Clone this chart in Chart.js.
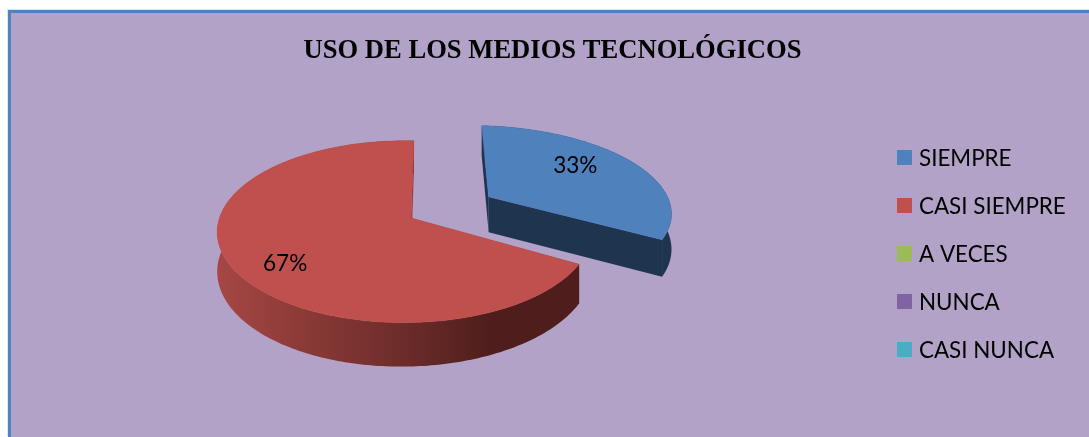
<!DOCTYPE html>
<html><head><meta charset="utf-8">
<script src="https://cdn.jsdelivr.net/npm/chart.js@4"></script>
<style>
html,body{margin:0;padding:0;width:1089px;height:437px;overflow:hidden;background:#fff}
#frame{position:absolute;left:8px;top:10px;width:1089px;height:427px;background:#B3A2C7;box-shadow:inset 3px 3px 0 #4F81BD,-1px -1px 0 #dbe4ef}
canvas{position:absolute;left:0;top:0}
</style></head><body>
<div id="frame"><canvas id="c" width="1089" height="427"></canvas></div>
<script>
const chartTitle = "USO DE LOS MEDIOS TECNOLÓGICOS";
const categories = ["SIEMPRE","CASI SIEMPRE","A VECES","NUNCA","CASI NUNCA"];
const values = [33,67,0,0,0];
const colors = ["#4F81BD","#C0504D","#9BBB59","#8064A2","#4BACC6"];
const BODY_FONT = "Lato";

// Projection of the flat pie into its tilted view
const PIE = {x:403, y:208, radius:185, tilt:0.48, persp:0.15, skew:0.034, depth:37.4, explodedWidth:1.07};
const LABEL_SPOT = {0:{turn:-8, frac:0.7}, 1:{turn:-7, frac:0.76}};
const LABEL_NUDGE = {0:{x:2,y:1}, 1:{x:-2,y:2}};
const LEGEND = {x:889, firstY:147.5, step:48, box:15, gap:7, size:22.4, textDrop:1};

function project(dx,dy){
  const s = 1/(1 + PIE.persp*(-dy/PIE.radius) + PIE.skew*(dx/PIE.radius));
  return {x:PIE.x+dx*s, y:PIE.y+PIE.tilt*dy*s, s};
}
function trace(ctx,pts){ctx.beginPath();pts.forEach((p,i)=>i?ctx.lineTo(p.x,p.y):ctx.moveTo(p.x,p.y));ctx.closePath();}
function lower(p){return {x:p.x,y:p.y+PIE.depth*p.s};}

const pie3d = {
  id:'pie3d',
  beforeDatasetsDraw(chart){
    const ctx = chart.ctx, arcs = chart.getDatasetMeta(0).data;
    const order = arcs.map((a,i)=>i).filter(i=>values[i]>0);
    const total = values.reduce((a,b)=>a+b,0);
    ctx.save();
    order.forEach(i=>{
      const a = arcs[i], r = a.outerRadius, off = a.options.offset||0;
      const mid = (a.startAngle+a.endAngle)/2;
      const ox = Math.cos(mid)*off, oy = Math.sin(mid)*off;
      const wide = off>0 ? PIE.explodedWidth : 1;
      const at = (ang,rad)=>project(ox+Math.cos(ang)*rad*wide, oy+Math.sin(ang)*rad);
      const apex = at(mid,0), rim=[];
      const n = Math.ceil((a.endAngle-a.startAngle)/(Math.PI/180));
      for(let k=0;k<=n;k++) rim.push(at(a.startAngle+(a.endAngle-a.startAngle)*k/n,r));
      const dark = i===0 ? "#1F344F" : "#8F3A38";
      const face = e=>{trace(ctx,[apex,e,lower(e),lower(apex)]);ctx.fillStyle=dark;ctx.fill();};
      face(rim[0]);
      // outer wall
      let wall;
      if(i===0){wall="#1F344F";}
      else{
        wall=ctx.createLinearGradient(217-8,0,581-8,0);
        wall.addColorStop(0,"#A64745");wall.addColorStop(0.3,"#843734");
        wall.addColorStop(0.52,"#6B2C2A");wall.addColorStop(0.75,"#4F1E1C");wall.addColorStop(1,"#4F1E1C");
      }
      trace(ctx,rim.concat(rim.map(lower).reverse()));ctx.fillStyle=wall;ctx.fill();
      face(rim[rim.length-1]);
      // top face
      trace(ctx,[apex].concat(rim));ctx.fillStyle=a.options.backgroundColor;ctx.fill();
      ctx.strokeStyle=a.options.backgroundColor;ctx.lineWidth=0.5;ctx.stroke();
    });
    // percent labels
    ctx.fillStyle="#000";ctx.font=`22.6px ${BODY_FONT}`;ctx.textAlign="center";ctx.textBaseline="middle";
    order.forEach(i=>{
      const a=arcs[i], off=a.options.offset||0, spot=LABEL_SPOT[i], nudge=LABEL_NUDGE[i];
      const mid=(a.startAngle+a.endAngle)/2, ang=mid+spot.turn*Math.PI/180;
      const p=project(Math.cos(mid)*off+Math.cos(ang)*a.outerRadius*spot.frac, Math.sin(mid)*off+Math.sin(ang)*a.outerRadius*spot.frac);
      ctx.fillText(Math.round(values[i]/total*100)+"%",p.x+nudge.x,p.y+nudge.y);
    });
    // legend
    ctx.textAlign="left";ctx.font=`${LEGEND.size}px ${BODY_FONT}`;
    categories.forEach((c,i)=>{
      const y=LEGEND.firstY+LEGEND.step*i;
      ctx.fillStyle=colors[i];ctx.fillRect(LEGEND.x,y-LEGEND.box/2,LEGEND.box,LEGEND.box);
      ctx.fillStyle="#000";ctx.fillText(c,LEGEND.x+LEGEND.box+LEGEND.gap,y+LEGEND.textDrop);
    });
    ctx.restore();
    return false;
  }
};

new Chart(document.getElementById('c'),{
  type:'pie',
  data:{labels:categories,datasets:[{data:values,backgroundColor:colors,borderWidth:0,offset:[94,0,0,0,0],radius:PIE.radius}]},
  plugins:[pie3d],
  options:{
    responsive:false,animation:false,rotation:1,
    plugins:{
      legend:{display:false},tooltip:{enabled:false},
      title:{display:true,text:chartTitle,color:"#000",font:{family:"Liberation Serif",size:26.6,weight:"bold"},padding:{top:25,bottom:0}}
    }
  }
});
</script></body></html>
